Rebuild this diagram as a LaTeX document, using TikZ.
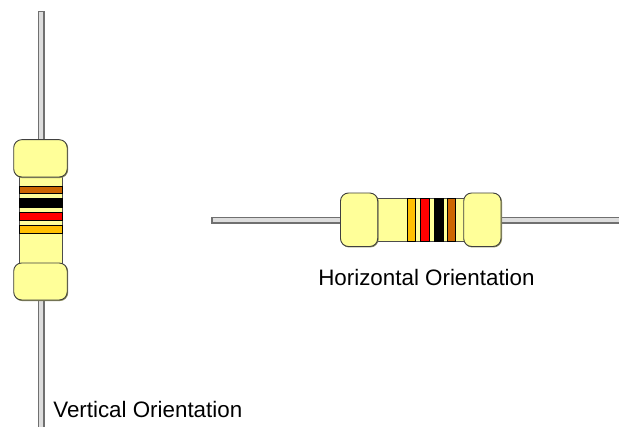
\documentclass[tikz,border=0pt]{standalone}
\usepackage{fontspec}
\setmainfont{Liberation Sans}
\definecolor{capfill}{HTML}{FFFF99}
\definecolor{capshadow}{HTML}{8F8F60}
\definecolor{lead}{HTML}{DDDDDD}
\definecolor{leadedge}{HTML}{707070}
\definecolor{amberband}{HTML}{FFC000}
\definecolor{brownband}{HTML}{CC6600}
\tikzset{
  leadwire/.style={fill=lead,draw=leadedge,line width=1.3pt},
  bodypart/.style={fill=capfill,draw=black!70,line width=1pt},
  capshade/.style={fill=capshadow,draw=capshadow,line width=1pt,rounded corners=8pt},
  capshape/.style={fill=capfill,draw=black!75,line width=0.9pt,rounded corners=8pt},
  band/.style={draw=black,line width=0.9pt},
  caption/.style={font=\fontsize{14.2pt}{17pt}\selectfont,text=black,inner sep=0pt,anchor=base west,scale=1.575}
}
\begin{document}
\begin{tikzpicture}[x=1pt,y=-1pt]
\useasboundingbox (0,0) rectangle (619,427);
\fill[white] (0,0) rectangle (619,427);
% vertical resistor
\draw[leadwire] (38.3,11.5) rectangle (44,432);
\draw[bodypart] (19.5,170) rectangle (62,270);
\draw[band,fill=brownband] (19.5,186) rectangle (62,193);
\draw[band,fill=black] (19.5,198.5) rectangle (62,207);
\draw[band,fill=red] (19.5,212.5) rectangle (62,220.5);
\draw[band,fill=amberband] (19.5,225.5) rectangle (62,233);
\draw[capshade] (14.4,140.4) rectangle (67.7,177.6);
\draw[capshape] (13.7,139.7) rectangle (67.2,177);
\draw[capshade] (14.4,263.7) rectangle (67.7,300.6);
\draw[capshape] (13.7,263) rectangle (67.2,300);
% horizontal resistor
\draw[leadwire] (212,217.3) rectangle (625,223);
\draw[bodypart] (370,198.5) rectangle (470,241.5);
\draw[band,fill=amberband] (407.5,198.5) rectangle (415.5,241.5);
\draw[band,fill=red] (420.5,198.5) rectangle (429,241.5);
\draw[band,fill=black] (434,198.5) rectangle (443,241.5);
\draw[band,fill=brownband] (447.5,198.5) rectangle (455.5,241.5);
\draw[capshade] (341.2,193.7) rectangle (378.2,247);
\draw[capshape] (340.5,193) rectangle (377.7,246.5);
\draw[capshade] (464.4,193.7) rectangle (501.5,247);
\draw[capshape] (463.7,193) rectangle (501,246.5);
% captions
\node[caption] (hcap) at (318,285.2) {Horizontal Orientation};
\node[caption] (vcap) at (53,417.5) {Vertical Orientation};
\end{tikzpicture}
\end{document}
